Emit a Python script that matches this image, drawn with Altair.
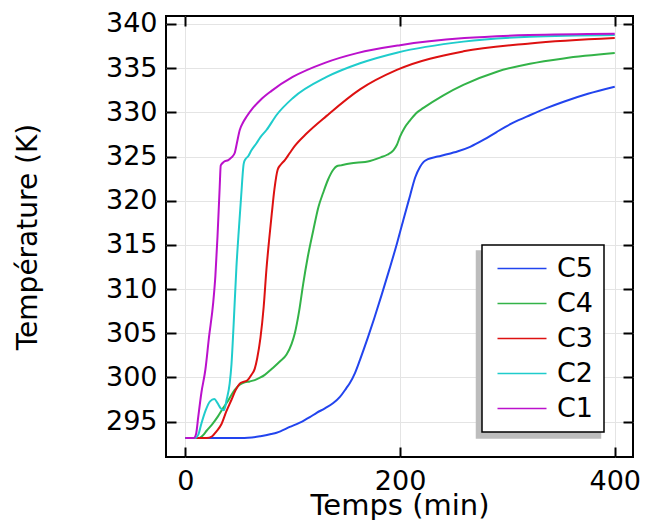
import altair as alt
import pandas as pd

series_order = ["C5", "C4", "C3", "C2", "C1"]
series_colors = ["#2244ee", "#33b348", "#dd1111", "#1fcccc", "#bb11cc"]

x_ticks = [0, 200, 400]
y_ticks = [295, 300, 305, 310, 315, 320, 325, 330, 335, 340]

c1_t = [0, 8, 10, 12, 15, 18.7, 22, 26, 28, 30, 32, 33, 36, 40, 43, 46, 48, 50.7, 54, 57, 63, 70, 80, 100, 130, 160, 200, 260, 320, 400]
c1_T = [293.15, 293.15, 293.6, 295.5, 298.3, 300.9, 304.5, 308.5, 311.5, 316, 321.5, 324.0, 324.4, 324.6, 324.9, 325.4, 326.5, 328.0, 328.9, 329.5, 330.5, 331.4, 332.4, 334.0, 335.6, 336.7, 337.6, 338.4, 338.75, 338.9]

c2_t = [0, 9, 12, 15, 19, 23, 27, 30, 33, 36, 38.5, 41.3, 43, 45, 47.6, 50, 52, 54.4, 56, 58.4, 61.6, 66.3, 70, 75.6, 85, 100, 131.6, 162.7, 197, 259, 321, 400]
c2_T = [293.15, 293.15, 293.5, 294.8, 296.3, 297.3, 297.55, 297.1, 296.5, 296.3, 297.5, 299.3, 301.5, 306, 312.5, 317, 320.5, 324.2, 324.7, 325.0, 325.7, 326.5, 327.2, 328.0, 329.7, 331.6, 334.0, 335.55, 336.75, 338.0, 338.55, 338.75]

c3_t = [0, 20, 25, 29, 33.6, 38, 42.9, 47, 50.7, 54, 57, 61.6, 64.7, 67, 70, 73, 75.6, 78, 80.5, 83, 86, 89, 92.7, 97.3, 102, 112.9, 131.6, 162.7, 197, 259, 321, 400]
c3_T = [293.15, 293.15, 293.35, 293.9, 294.7, 296.1, 297.45, 298.6, 299.3, 299.5, 299.6, 300.3, 301.0, 302.2, 304.5, 308.0, 312.3, 315.5, 318.5, 321.3, 323.5, 324.1, 324.6, 325.4, 326.2, 327.6, 329.6, 332.6, 334.8, 336.9, 337.8, 338.4]

c4_t = [0, 13, 16, 20, 25, 30.4, 35, 40, 46, 51, 55.3, 60, 64.7, 70, 74, 81.8, 88, 94.3, 99, 102, 106, 109.8, 114, 119.1, 124, 128.4, 133, 137.8, 141, 145, 153.4, 172, 182, 188, 193.8, 197, 200, 204, 209.4, 215, 221.8, 240, 259, 290.3, 321, 352.4, 400]
c4_T = [293.15, 293.15, 293.4, 294.0, 294.7, 295.6, 296.5, 297.4, 298.6, 299.2, 299.45, 299.55, 299.7, 300.0, 300.3, 301.1, 301.8, 302.6, 303.8, 305.0, 307.5, 310.6, 313.6, 316.6, 319.3, 320.9, 322.4, 323.5, 323.9, 324.0, 324.2, 324.5, 324.9, 325.2, 325.7, 326.3, 327.25, 328.2, 329.1, 329.9, 330.5, 331.9, 333.1, 334.6, 335.5, 336.1, 336.7]

c5_t = [0, 55, 62, 70, 80, 85, 97.3, 110, 116, 122.3, 130, 137.8, 144, 150, 153.4, 158, 162.7, 170, 176, 183, 190, 197, 203, 209.4, 214, 218.7, 222, 226, 235, 243.6, 254, 265.3, 278, 290.3, 305, 321.4, 337, 352.4, 375, 400]
c5_T = [293.15, 293.15, 293.2, 293.35, 293.6, 293.75, 294.4, 295.1, 295.5, 296.0, 296.5, 297.1, 297.8, 298.8, 299.4, 300.5, 302.0, 304.5, 306.7, 309.4, 312.2, 315.1, 317.8, 320.6, 322.6, 323.85, 324.4, 324.7, 325.0, 325.25, 325.6, 326.1, 326.9, 327.8, 328.8, 329.7, 330.5, 331.2, 332.1, 332.9]

rows = []
for name, ts, Ts in [("C5", c5_t, c5_T), ("C4", c4_t, c4_T), ("C3", c3_t, c3_T),
                     ("C2", c2_t, c2_T), ("C1", c1_t, c1_T)]:
    for t, T in zip(ts, Ts):
        rows.append({"series": name, "shadow": "s" + name[1:], "t": t, "T": T})
df = pd.DataFrame(rows)

shadow_order = ["s" + s[1:] for s in series_order]

FONT = "DejaVu Sans"
FS = 27
SHADOW = "#bdbdbd"

x_scale = alt.Scale(domain=[-18, 417], nice=False, zero=False)
y_scale = alt.Scale(domain=[291, 340.9], nice=False, zero=False)

legend_common = dict(
    orient="none",
    direction="vertical",
    title=None,
    labelFont=FONT,
    labelFontSize=FS,
    symbolType="M-3.5,0H3.5",
    symbolSize=196,
    symbolStrokeWidth=1.5,
    symbolOffset=16.5,
    rowPadding=7,
    padding=10,
)

lines = alt.Chart(df).mark_line(strokeWidth=2, interpolate="monotone").encode(
    x=alt.X("t:Q", scale=x_scale,
            axis=alt.Axis(orient="bottom", values=x_ticks, title="Temps (min)",
                          offset=-10, tickSize=10, tickWidth=2, tickColor="black",
                          labelPadding=11, titlePadding=-3, titleFontSize=29,
                          grid=True, domain=False)),
    y=alt.Y("T:Q", scale=y_scale,
            axis=alt.Axis(orient="left", values=y_ticks, title="Température (K)",
                          offset=-10, tickSize=10, tickWidth=2, tickColor="black",
                          labelPadding=9, titlePadding=63, titleFontSize=28,
                          grid=True, domain=False)),
    color=alt.Color("series:N",
                    scale=alt.Scale(domain=series_order, range=series_colors),
                    legend=alt.Legend(legendX=316, legendY=229, fillColor="white",
                                      strokeColor="black", zindex=2,
                                      labelOffset=21.5,
                                      labelExpr="datum.label + '\u00a0'",
                                      **legend_common)),
)

frame = alt.Chart(df).mark_line(strokeWidth=0, strokeOpacity=0).encode(
    x=alt.X("t:Q", scale=x_scale,
            axis=alt.Axis(orient="top", values=x_ticks, title=None, labels=False,
                          offset=-10, tickSize=10, tickWidth=2, tickColor="black",
                          grid=False, domain=False)),
    y=alt.Y("T:Q", scale=y_scale,
            axis=alt.Axis(orient="right", values=y_ticks, title=None, labels=False,
                          offset=-10, tickSize=10, tickWidth=2, tickColor="black",
                          grid=False, domain=False)),
    strokeDash=alt.StrokeDash("shadow:N",
                              scale=alt.Scale(domain=shadow_order,
                                              range=[[1, 0], [1, 0], [1, 0], [1, 0], [1, 0]]),
                              legend=alt.Legend(legendX=310.5, legendY=235, fillColor=SHADOW,
                                                strokeColor=SHADOW, zindex=1,
                                                labelColor=SHADOW,
                                                symbolStrokeColor=SHADOW,
                                                labelOffset=60,
                                                labelExpr="'\u2003\u2002\u2009'",
                                                **legend_common)),
)

chart = alt.layer(lines, frame).resolve_axis(x="independent", y="independent").properties(
    width=467,
    height=441,
    autosize=alt.AutoSizeParams(type="none"),
    padding={"left": 166, "top": 16, "right": 12, "bottom": 63},
    background="white",
).configure_view(
    stroke="black", strokeWidth=2
).configure_axis(
    labelFont=FONT, labelFontSize=FS, labelColor="black",
    titleFont=FONT, titleFontSize=FS, titleColor="black", titleFontWeight="normal",
    gridColor="#e4e4e4", gridWidth=1,
).configure_legend(
    strokeWidth=1.5
)

chart.save("out.html", embed_options={"renderer": "svg", "actions": False})
